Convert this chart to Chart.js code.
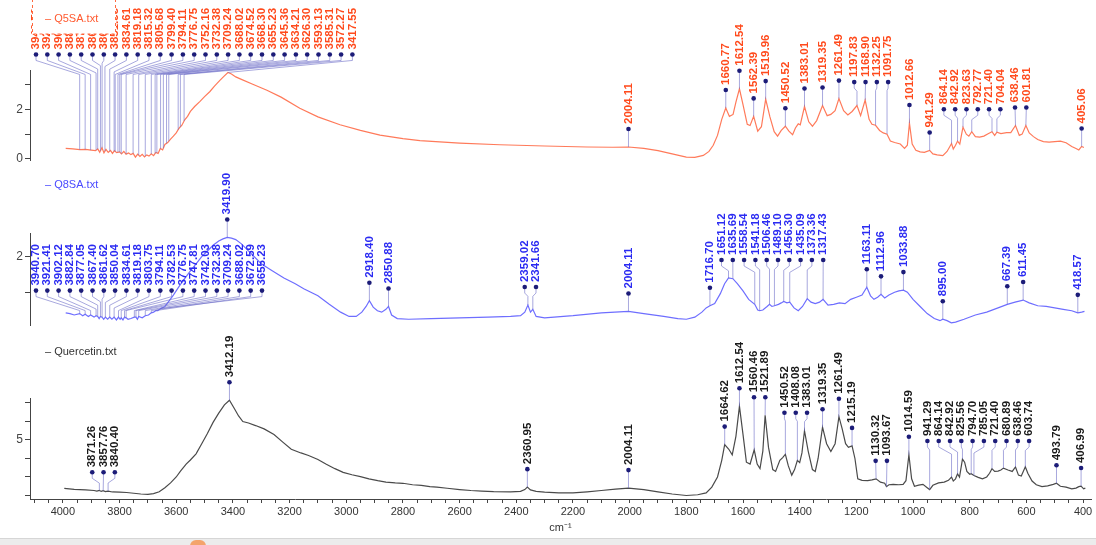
<!DOCTYPE html>
<html>
<head>
<meta charset="utf-8">
<script src="https://cdn.jsdelivr.net/npm/chart.js@4.4.1/dist/chart.umd.min.js"></script>
<style>
  body { margin: 0; background: #fff; }
  #wrap { position: relative; width: 1096px; height: 545px; overflow: hidden; }
  canvas { position: absolute; left: 0; }
  #strip { position: absolute; left: 0; top: 538px; width: 1096px; height: 7px; background: #ececec; border-top: 1px solid #d6d6d6; }
  #blob { position: absolute; left: 190px; top: 540px; width: 16px; height: 12px; border-radius: 8px; background: #f4a46c; }
</style>
</head>
<body>
<div id="wrap">
  <canvas id="top" width="1096" height="170" style="top:0px"></canvas>
  <canvas id="mid" width="1096" height="165" style="top:170px"></canvas>
  <canvas id="bot" width="1096" height="210" style="top:335px"></canvas>
  <div id="strip"></div>
  <div id="blob"></div>
</div>
<script>
// spectra: [wavenumber cm-1, intensity]
const q5Points = [
  [3990,0.42],[3965,0.40],[3940,0.37],[3920,0.38],[3900,0.35],[3885,0.33],[3877,0.40],[3870,0.27],
  [3862,0.45],[3855,0.24],[3848,0.38],[3840,0.26],[3832,0.34],[3825,0.22],[3818,0.33],[3810,0.25],
  [3800,0.28],[3793,0.20],[3785,0.30],[3777,0.19],[3768,0.24],[3760,0.17],[3752,0.22],[3744,0.07],
  [3736,0.19],[3728,0.10],[3720,0.18],[3712,0.08],[3704,0.16],[3696,0.11],[3688,0.20],[3680,0.13],
  [3672,0.26],[3664,0.22],[3656,0.42],[3648,0.36],[3640,0.58],[3630,0.66],[3620,0.80],[3610,0.92],
  [3600,1.05],[3590,1.24],[3580,1.36],[3570,1.58],[3560,1.72],[3550,1.92],[3535,2.12],[3516,2.33],
  [3500,2.52],[3481,2.73],[3465,2.95],[3446,3.18],[3430,3.36],[3417.55,3.50],[3405,3.44],[3390,3.32],
  [3370,3.22],[3330,3.02],[3280,2.78],[3230,2.50],[3164,2.05],[3100,1.70],[3022,1.38],[2950,1.15],
  [2881,0.96],[2800,0.82],[2740,0.74],[2600,0.64],[2458,0.57],[2300,0.52],[2150,0.48],[2060,0.47],
  [2004.11,0.48],[1950,0.42],[1900,0.33],[1850,0.20],[1800,0.07],[1770,0.06],[1740,0.14],[1720,0.30],
  [1705,0.55],[1690,0.95],[1675,1.60],[1660.77,2.06],[1648,1.72],[1635,1.80],[1625,2.30],[1612.54,2.84],
  [1600,2.20],[1585,1.40],[1575,1.35],[1562.39,1.72],[1548,1.12],[1535,1.30],[1519.96,2.42],[1505,1.70],
  [1490,1.10],[1478,0.92],[1465,1.15],[1450.52,1.32],[1438,1.12],[1425,0.98],[1415,1.25],[1405,1.42],
  [1398,1.38],[1383.01,2.12],[1368,1.50],[1355,1.32],[1340,1.55],[1319.35,2.16],[1303,1.75],[1290,1.80],
  [1275,1.95],[1261.49,2.44],[1245,1.95],[1230,1.78],[1215,1.92],[1197.83,2.16],[1185,1.75],[1168.9,2.38],
  [1155,1.60],[1145,1.40],[1132.25,1.36],[1118,1.15],[1105,1.05],[1091.75,1.00],[1080,0.72],[1065,0.66],
  [1045,0.60],[1030,0.42],[1020,0.55],[1012.66,1.45],[1003,0.60],[990,0.35],[975,0.28],[960,0.26],
  [941.29,0.34],[930,0.20],[915,0.16],[895,0.13],[880,0.30],[870,0.50],[864.14,0.62],[858,0.40],
  [850,0.55],[842.92,0.72],[835,0.60],[826,1.15],[823.63,1.28],[812,1.00],[803,0.92],[792.77,1.10],
  [780,0.90],[765,0.88],[750,0.92],[735,1.02],[721.4,1.10],[712,0.95],[704.04,1.08],[690,1.02],
  [670,1.06],[655,1.06],[638.46,1.35],[625,0.95],[615,1.00],[601.81,1.35],[590,1.05],[575,0.90],
  [560,0.78],[540,0.70],[520,0.68],[500,0.70],[480,0.72],[460,0.65],[440,0.50],[425,0.42],
  [415,0.36],[405.06,0.50],[397,0.46]
]
const q8Points = [
  [3990,1.21],[3975,1.20],[3960,1.18],[3940.7,1.20],[3930,1.17],[3921.41,1.19],[3910,1.16],[3902.12,1.18],
  [3890,1.15],[3882.84,1.17],[3877.05,1.16],[3872,1.13],[3867.4,1.16],[3861.62,1.15],[3856,1.12],[3850.04,1.15],
  [3842,1.12],[3834.61,1.15],[3827,1.12],[3819.18,1.15],[3811,1.11],[3803.75,1.15],[3798,1.12],[3794.11,1.14],
  [3788,1.11],[3782.53,1.15],[3776.75,1.14],[3770,1.12],[3760,1.13],[3747.81,1.15],[3742.03,1.15],[3737,1.12],
  [3732.38,1.16],[3720,1.14],[3709.24,1.17],[3698,1.18],[3688.02,1.21],[3680,1.22],[3672.59,1.24],[3665,1.24],
  [3655.23,1.27],[3640,1.30],[3625,1.38],[3610,1.46],[3595,1.55],[3580,1.64],[3565,1.72],[3550,1.80],
  [3530,1.90],[3510,2.00],[3490,2.08],[3470,2.16],[3450,2.22],[3435,2.25],[3419.9,2.27],[3405,2.26],
  [3390,2.24],[3370,2.18],[3340,2.06],[3300,1.90],[3260,1.80],[3220,1.70],[3180,1.62],[3150,1.55],
  [3100,1.45],[3060,1.33],[3020,1.22],[2990,1.16],[2965,1.16],[2945,1.22],[2930,1.30],[2918.4,1.38],
  [2905,1.29],[2890,1.24],[2875,1.22],[2860,1.26],[2850.88,1.30],[2840,1.18],[2820,1.13],[2780,1.12],
  [2700,1.13],[2600,1.14],[2500,1.15],[2420,1.16],[2385,1.17],[2370,1.22],[2359.02,1.32],[2350,1.22],
  [2341.66,1.26],[2330,1.16],[2300,1.14],[2200,1.17],[2100,1.21],[2004.11,1.23],[1950,1.20],[1880,1.16],
  [1830,1.13],[1800,1.12],[1770,1.15],[1745,1.22],[1730,1.28],[1716.7,1.31],[1700,1.34],[1680,1.48],
  [1665,1.62],[1651.12,1.70],[1635.69,1.69],[1620,1.62],[1600,1.52],[1580,1.40],[1558.54,1.33],[1548,1.25],
  [1541.18,1.24],[1530,1.25],[1515,1.30],[1506.46,1.33],[1498,1.30],[1489.1,1.31],[1475,1.33],[1465,1.35],
  [1456.3,1.37],[1445,1.35],[1435.09,1.36],[1420,1.28],[1405,1.24],[1390,1.30],[1373.36,1.41],[1360,1.36],
  [1345,1.34],[1330,1.36],[1317.43,1.40],[1300,1.32],[1280,1.33],[1260,1.35],[1240,1.34],[1220,1.40],
  [1200,1.43],[1180,1.46],[1163.11,1.57],[1150,1.45],[1138,1.40],[1125,1.43],[1112.96,1.47],[1100,1.42],
  [1085,1.46],[1065,1.50],[1050,1.52],[1033.88,1.53],[1020,1.50],[1000,1.40],[975,1.30],[950,1.20],
  [925,1.13],[905,1.10],[895,1.12],[880,1.10],[865,1.07],[850,1.08],[820,1.12],[780,1.18],
  [740,1.22],[700,1.28],[667.39,1.33],[640,1.36],[611.45,1.39],[590,1.35],[560,1.31],[530,1.30],
  [500,1.28],[470,1.26],[440,1.24],[418.57,1.21],[405,1.22],[395,1.23]
]
const qcPoints = [
  [3995,2.38],[3960,2.33],[3920,2.30],[3890,2.27],[3880,2.24],[3871.26,2.28],[3865,2.22],[3857.76,2.26],
  [3850,2.21],[3840.4,2.24],[3825,2.19],[3800,2.18],[3775,2.16],[3750,2.12],[3725,2.08],[3700,2.06],
  [3680,2.10],[3660,2.20],[3640,2.42],[3620,2.68],[3600,3.00],[3585,3.32],[3565,3.70],[3550,3.92],
  [3530,4.25],[3510,4.80],[3490,5.35],[3470,5.95],[3450,6.45],[3430,6.90],[3412.19,7.15],[3395,6.70],
  [3380,6.30],[3365,6.00],[3345,5.92],[3320,5.78],[3290,5.60],[3255,5.30],[3225,4.90],[3194,4.50],
  [3160,4.30],[3133,4.16],[3100,3.95],[3072,3.70],[3040,3.45],[3011,3.25],[2980,3.12],[2950,3.02],
  [2920,2.90],[2889,2.80],[2860,2.72],[2827,2.68],[2800,2.66],[2766,2.58],[2735,2.55],[2705,2.48],
  [2680,2.45],[2644,2.39],[2600,2.32],[2560,2.27],[2522,2.24],[2480,2.21],[2420,2.20],[2385,2.22],
  [2370,2.32],[2360.95,2.45],[2350,2.30],[2330,2.22],[2300,2.18],[2250,2.14],[2200,2.14],[2150,2.20],
  [2100,2.27],[2050,2.34],[2004.11,2.40],[1950,2.32],[1900,2.20],[1850,2.08],[1800,2.00],[1760,2.04],
  [1730,2.14],[1710,2.45],[1690,3.00],[1675,3.90],[1664.62,4.75],[1650,4.50],[1638,4.20],[1625,5.20],
  [1612.54,6.82],[1600,5.30],[1588,3.80],[1575,3.70],[1560.46,4.47],[1550,3.70],[1540,3.45],[1530,4.40],
  [1521.89,6.34],[1510,4.60],[1495,3.40],[1485,3.30],[1470,3.90],[1460,4.05],[1450.52,4.23],[1440,3.60],
  [1428,3.10],[1418,3.40],[1408.08,3.90],[1400,3.78],[1392,4.30],[1383.01,5.50],[1370,4.40],[1355,3.40],
  [1345,3.30],[1335,4.00],[1319.35,5.69],[1305,4.80],[1290,4.38],[1275,4.80],[1261.49,6.26],[1250,5.60],
  [1238,4.80],[1228,4.60],[1215.19,4.68],[1205,4.00],[1195,2.90],[1180,2.82],[1160,2.80],[1145,2.84],
  [1130.32,2.90],[1115,2.72],[1100,2.66],[1093.67,2.48],[1085,2.58],[1070,2.60],[1050,2.58],[1035,2.60],
  [1025,2.80],[1014.59,4.20],[1005,2.90],[995,2.50],[980,2.56],[965,2.60],[950,2.42],[941.29,2.32],
  [930,2.55],[910,2.68],[890,2.72],[875,2.82],[864.14,3.00],[858,2.78],[850,2.90],[842.92,3.17],
  [836,3.00],[825.56,3.97],[818,3.80],[810,3.30],[800,3.15],[794.7,3.18],[785.05,3.08],[770,2.98],
  [755,2.90],[740,3.00],[730,3.20],[721.4,3.45],[712,3.30],[700,3.32],[690,3.38],[680.89,3.48],
  [665,3.38],[650,3.30],[638.46,3.54],[628,3.10],[618,3.05],[603.74,3.55],[595,3.20],[580,2.78],
  [565,2.58],[545,2.48],[525,2.52],[505,2.60],[493.79,2.66],[480,2.50],[460,2.45],[440,2.36],
  [425,2.40],[415,2.48],[406.99,2.51],[398,2.36],[392,2.40]
]

// picked peaks
const q5Peaks = [3940.70, 3921.41, 3902.12, 3882.84, 3877.05, 3867.40, 3861.62, 3851.55, 3834.61, 3819.18,
  3815.32, 3805.68, 3799.40, 3794.11, 3776.75, 3752.16, 3732.38, 3709.24, 3688.02, 3674.52, 3668.30,
  3655.23, 3645.36, 3634.21, 3626.30, 3593.13, 3585.31, 3572.27, 3417.55,
  2004.11, 1660.77, 1612.54, 1562.39, 1519.96, 1450.52, 1383.01, 1319.35, 1261.49, 1197.83, 1168.90,
  1132.25, 1091.75, 1012.66, 941.29, 864.14, 842.92, 823.63, 792.77, 721.40, 704.04, 638.46, 601.81, 405.06]
const q8Peaks = [3940.70, 3921.41, 3902.12, 3882.84, 3877.05, 3867.40, 3861.62, 3850.04, 3834.61, 3819.18,
  3803.75, 3794.11, 3782.53, 3776.75, 3747.81, 3742.03, 3732.38, 3709.24, 3688.02, 3672.59, 3655.23,
  3419.90, 2918.40, 2850.88, 2359.02, 2341.66, 2004.11, 1716.70, 1651.12, 1635.69, 1558.54, 1541.18,
  1506.46, 1489.10, 1456.30, 1435.09, 1373.36, 1317.43, 1163.11, 1112.96, 1033.88, 895.00, 667.39, 611.45, 418.57]
const qcPeaks = [3871.26, 3857.76, 3840.40, 3412.19, 2360.95, 2004.11, 1664.62, 1612.54, 1560.46, 1521.89,
  1450.52, 1408.08, 1383.01, 1319.35, 1261.49, 1215.19, 1130.32, 1093.67, 1014.59, 941.29, 864.14,
  842.92, 825.56, 794.70, 785.05, 721.40, 680.89, 638.46, 603.74, 493.79, 406.99]

const legendNames = ['Q5SA.txt', 'Q8SA.txt', 'Quercetin.txt']
const xMin = 372, xMax = 4116
const xLabelEvery = 200

function valueAt(w, pts) {
  for (let i = 0; i < pts.length - 1; i++) {
    let a = pts[i], b = pts[i + 1]
    if (w <= a[0] && w >= b[0]) {
      let t = (a[0] - w) / (a[0] - b[0])
      return a[1] + (b[1] - a[1]) * t
    }
  }
  return pts[pts.length - 1][1]
}

// draws peak dots, rotated values and leader lines, plus the legend text
const peakPlugin = {
  id: 'peakLabels',
  afterDatasetsDraw(chart, args, opts) {
    const ctx = chart.ctx, xs = chart.scales.x, ys = chart.scales.y, area = chart.chartArea
    const gap = 11.3
    let items = opts.peaks.map(w => ({ w, px: xs.getPixelForValue(w), cy: ys.getPixelForValue(valueAt(w, opts.points)) }))
    items.sort((a, b) => a.px - b.px)

    let groups = []
    let forcedMap = {}
    for (let it of items) {
      let fi = (opts.forced || []).findIndex(r => it.w <= r[0] && it.w >= r[1])
      if (fi >= 0) {
        if (!forcedMap[fi]) { forcedMap[fi] = { items: [], fixed: true }; groups.push(forcedMap[fi]) }
        forcedMap[fi].items.push(it)
      } else groups.push({ items: [it], fixed: false })
    }
    const place = g => {
      let n = g.items.length
      let c = g.items.reduce((s, i) => s + i.px, 0) / n
      let s = c - (n - 1) * gap / 2
      if (s < area.left + 6) s = area.left + 6
      g.start = s
      g.end = s + (n - 1) * gap
    }
    groups.forEach(place)
    let merged = true
    while (merged) {
      merged = false
      groups.sort((a, b) => a.start - b.start)
      for (let i = 0; i < groups.length - 1; i++) {
        let a = groups[i], b = groups[i + 1]
        if (!a.fixed && !b.fixed && b.start - a.end < gap - 0.01) {
          a.items = a.items.concat(b.items).sort((p, q) => p.px - q.px)
          groups.splice(i + 1, 1)
          place(a)
          merged = true
          break
        }
      }
    }

    ctx.save()
    for (let g of groups) {
      let dy = Math.min(...g.items.map(i => i.cy)) - 18
      g.items.forEach((it, k) => { it.dx = g.items.length > 1 ? g.start + k * gap : it.px; it.dy = dy })
    }
    // leader lines
    ctx.strokeStyle = 'rgba(110,110,200,0.6)'
    ctx.lineWidth = 1
    for (let it of items) {
      ctx.beginPath()
      ctx.moveTo(it.dx, it.dy)
      if (Math.abs(it.dx - it.px) < 0.5) {
        ctx.lineTo(it.px, it.cy)
      } else {
        let y1 = it.dy + 6
        let y2 = Math.min(it.cy, y1 + Math.min(14, 2 + Math.abs(it.dx - it.px) * 0.4))
        ctx.lineTo(it.dx, y1)
        ctx.lineTo(it.px, y2)
        ctx.lineTo(it.px, it.cy)
      }
      ctx.stroke()
    }
    // dots
    ctx.fillStyle = '#1c1c78'
    for (let it of items) {
      ctx.beginPath()
      ctx.arc(it.dx, it.dy, 2.3, 0, Math.PI * 2)
      ctx.fill()
    }
    // values
    ctx.fillStyle = opts.textColor
    ctx.font = 'bold 11.5px "Liberation Sans", Arial, sans-serif'
    ctx.textAlign = 'left'
    ctx.textBaseline = 'middle'
    for (let it of items) {
      ctx.save()
      ctx.translate(it.dx, it.dy - 5)
      ctx.rotate(-Math.PI / 2)
      ctx.fillText(it.w.toFixed(2), 0, 0)
      ctx.restore()
    }
    // legend
    if (opts.box) {
      ctx.fillStyle = '#fff'
      ctx.fillRect(32, -2, 84, 36)
      ctx.setLineDash([3, 3])
      ctx.strokeStyle = '#ff6a40'
      ctx.strokeRect(32.5, -2, 83, 36)
      ctx.setLineDash([])
    }
    ctx.font = '11px "Liberation Sans", Arial, sans-serif'
    ctx.fillStyle = opts.legendColor
    ctx.textBaseline = 'middle'
    ctx.fillText('\u2013 ' + opts.legend, 45, opts.legendY)
    ctx.restore()
  }
}

function makeChart(id, pts, peaks, cfg) {
  const ctx = document.getElementById(id).getContext('2d')
  return new Chart(ctx, {
    type: 'line',
    data: {
      datasets: [{
        data: pts.map(p => ({ x: p[0], y: p[1] })),
        borderColor: cfg.lineColor,
        borderWidth: 1.2,
        pointRadius: 0,
        tension: 0,
        fill: false
      }]
    },
    options: {
      responsive: false,
      animation: false,
      devicePixelRatio: 1,
      layout: { padding: { top: cfg.padTop, bottom: cfg.padBottom, left: 0, right: 5 } },
      plugins: {
        legend: { display: false },
        tooltip: { enabled: false },
        peakLabels: {
          peaks: peaks, points: pts, textColor: cfg.textColor, forced: cfg.forced,
          legend: cfg.legend, legendColor: cfg.legendColor, legendY: cfg.legendY, box: cfg.box
        }
      },
      scales: {
        x: {
          type: 'linear',
          reverse: true,
          min: xMin,
          max: xMax,
          display: cfg.showX,
          afterFit: s => { s.height = cfg.showX ? 40 : 0 },
          grid: { drawOnChartArea: false, tickLength: 4, color: '#444' },
          border: { color: '#444' },
          title: { display: true, text: 'cm\u207B\u00B9', color: '#333', font: { size: 11, family: '"Liberation Sans", Arial' }, padding: { top: 0, bottom: 4 } },
          ticks: {
            stepSize: 50,
            includeBounds: false,
            autoSkip: false,
            maxRotation: 0,
            maxTicksLimit: 200,
            padding: 2,
            color: '#333',
            font: { size: 11, family: '"Liberation Sans", Arial' },
            callback: v => (v % xLabelEvery === 0 ? v : '')
          }
        },
        y: {
          min: cfg.yMin,
          max: cfg.yMax,
          afterFit: s => { s.width = 30 },
          grid: { drawOnChartArea: false, tickLength: 5, color: '#444' },
          border: { color: '#444' },
          ticks: {
            stepSize: 0.5,
            includeBounds: false,
            padding: 2,
            color: '#444',
            font: { size: 12, family: '"Liberation Sans", Arial' },
            callback: v => (Math.abs(v % cfg.labelEvery) < 1e-9 ? v : '')
          }
        }
      }
    },
    plugins: [peakPlugin]
  })
}

makeChart('top', q5Points, q5Peaks, {
  lineColor: '#ff7a5a', textColor: '#ff4a1c', legend: legendNames[0], legendColor: '#ff5a30', legendY: 19, box: true,
  padTop: 70, padBottom: 8, yMin: -0.08, yMax: 3.6, labelEvery: 2, showX: false, forced: [[3950, 3400]]
})
makeChart('mid', q8Points, q8Peaks, {
  lineColor: '#6e6eff', textColor: '#2b2bf2', legend: legendNames[1], legendColor: '#4a4aff', legendY: 15, box: false,
  padTop: 63, padBottom: 8, yMin: 1.028, yMax: 2.333, labelEvery: 2, showX: false, forced: [[3950, 3650]]
})
makeChart('bot', qcPoints, qcPeaks, {
  lineColor: '#4a4a4a', textColor: '#1a1a1a', legend: legendNames[2], legendColor: '#333', legendY: 17, box: false,
  padTop: 63, padBottom: 6, yMin: 1.81, yMax: 7.27, labelEvery: 5, showX: true, forced: []
})
</script>
</body>
</html>
